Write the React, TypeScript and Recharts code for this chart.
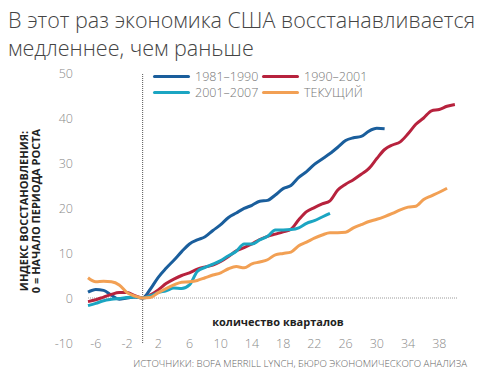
import { LineChart, Line, XAxis, YAxis, ReferenceLine, Legend } from 'recharts'

// quarters since the start of the recovery
const quarters = [
  -7, -6, -5, -4, -3, -2, -1, 0, 1, 2, 3, 4, 5, 6, 7, 8, 9, 10, 11, 12, 13, 14, 15, 16,
  17, 18, 19, 20, 21, 22, 23, 24, 25, 26, 27, 28, 29, 30, 31, 32, 33, 34, 35, 36, 37, 38, 39, 40,
]

const rec1981 = [
  1.3, 1.9, 1.7, 0.6, -0.3, 0, 0.2, 0, 2, 4.6, 6.6, 8.4, 10.3, 12, 12.9, 13.6, 15, 16.3, 17.9, 18.9,
  19.9, 20.6, 21.5, 21.7, 22.9, 24.3, 25, 26.8, 28.1, 29.7, 30.9, 32.1, 33.5, 35, 35.6, 35.9, 37.1,
  37.7, 37.6,
]

const rec1990 = [
  -0.8, -0.4, 0.2, 0.8, 1.2, 1.2, 0.5, 0, 0.7, 1.8, 3.2, 4.2, 5, 5.6, 6.4, 6.9, 7.3, 8.1, 9.2, 10.5,
  11.2, 12, 13, 13.7, 14.2, 14.7, 15.3, 17.4, 19.2, 20.1, 20.9, 21.6, 24, 25.3, 26.3, 27.5, 28.8, 31,
  33, 34, 34.7, 36.5, 38.6, 40, 41.6, 41.9, 42.6, 43,
]

const rec2001 = [
  -1.7, -1.2, -0.6, -0.3, -0.1, 0.1, 0.2, 0, 0.5, 1.2, 1.6, 2.2, 2.1, 2.9, 5.9, 6.8, 7.5, 8.3, 9.4,
  10.4, 12, 12, 12.9, 13.7, 15.1, 15.1, 15.2, 15.6, 16.6, 17.2, 18, 18.8,
]

const current = [
  4.5, 3.6, 3.7, 3.6, 2.9, 1.2, 0.4, 0, 0.1, 1.2, 2.1, 2.9, 3.5, 3.6, 3.9, 4.5, 5.1, 5.6, 6.5, 7,
  6.7, 7.6, 8, 8.5, 9.6, 9.9, 10.2, 11.6, 12.4, 13.3, 14, 14.5, 14.5, 14.6, 15.6, 16.3, 17, 17.5,
  18.1, 18.8, 19.6, 20.2, 20.4, 21.9, 22.7, 23.5, 24.4,
]

const seriesKeys = ['s1981', 's1990', 's2001', 'cur']
const seriesNames = ['1981–1990', '1990–2001', '2001–2007', 'ТЕКУЩИЙ']
const seriesColors = ['#1a5e9c', '#b7223d', '#1ba5c2', '#f2a054']
const seriesValues = [rec1981, rec1990, rec2001, current]

const xTicks = [-6, -2, 2, 6, 10, 14, 18, 22, 26, 30, 34, 38]
const yTicks = [-10, 0, 10, 20, 30, 40, 50]

const data = quarters.map((q, i) => {
  const row: any = { q }
  seriesKeys.forEach((k, j) => {
    row[k] = seriesValues[j][i] ?? null
  })
  return row
})

const font = '"Open Sans", "DejaVu Sans", sans-serif'

const TickText = ({ x, y, payload, anchor }: any) => (
  <text x={x} y={y} textAnchor={anchor} dominantBaseline="central" fill="#8a8a8a" fontSize={12.5} fontWeight={300} fontFamily={font}>
    {payload.value}
  </text>
)

const LegendBox = () => (
  <div style={{ display: 'grid', gridTemplateColumns: '109px 110px', rowGap: 1, fontFamily: font }}>
    {seriesNames.map((name, i) => (
      <div key={name} style={{ display: 'flex', alignItems: 'center', height: 15 }}>
        <span style={{ display: 'inline-block', width: 37, height: 3, borderRadius: 2, background: seriesColors[i], marginRight: 5 }} />
        <span style={{ fontSize: 12.5, fontWeight: 300, color: '#777' }}>{name}</span>
      </div>
    ))}
  </div>
)

const titleStyle: any = { position: 'absolute', left: 8, fontSize: 21.5, fontWeight: 300, lineHeight: '28px', color: '#444', whiteSpace: 'nowrap' }

export default function App() {
  return (
    <div style={{ position: 'absolute', left: 0, top: 0, width: 478, height: 380, background: '#fff', fontFamily: font }}>
      <div style={{ ...titleStyle, top: 6 }}>В этот раз экономика США восстанавливается</div>
      <div style={{ ...titleStyle, top: 34 }}>медленнее, чем раньше</div>

      <LineChart width={478} height={380} data={data} margin={{ top: 73, right: 20, bottom: 7, left: 28 }} style={{ position: 'absolute', left: 0, top: 0 }}>
        <XAxis
          dataKey="q"
          type="number"
          domain={[-7, 40.4]}
          ticks={xTicks}
          axisLine={false}
          tickLine={false}
          tickSize={0}
          tickMargin={0}
          height={30}
          tick={<TickText anchor="middle" />}
        />
        <YAxis
          domain={[-10, 50]}
          ticks={yTicks}
          axisLine={false}
          tickLine={false}
          tickSize={0}
          tickMargin={15}
          width={60}
          tick={<TickText anchor="end" />}
        />
        <ReferenceLine y={0} stroke="#9a9a9a" strokeDasharray="1 1" strokeWidth={1} />
        <ReferenceLine x={0} stroke="#555" strokeDasharray="1 1" strokeWidth={1} />
        <Legend
          layout="horizontal"
          verticalAlign="middle"
          content={<LegendBox />}
          wrapperStyle={{ top: 69, left: 153, width: 230, height: 32 }}
        />
        {seriesKeys.map((k, i) => (
          <Line
            key={k}
            dataKey={k}
            name={seriesNames[i]}
            type="monotone"
            stroke={seriesColors[i]}
            strokeWidth={3}
            dot={false}
            connectNulls={false}
            isAnimationActive={false}
          />
        ))}
      </LineChart>

      <svg width={478} height={380} style={{ position: 'absolute', left: 0, top: 0, pointerEvents: 'none' }}>
        <g transform="translate(33 211) rotate(-90)">
          <text x={0} y={-5} textAnchor="middle" fontSize={11} fontWeight={700} fill="#222" fontFamily={font}>
            ИНДЕКС ВОССТАНОВЛЕНИЯ:
          </text>
          <text x={0} y={7} textAnchor="middle" fontSize={11} fontWeight={700} fill="#222" fontFamily={font}>
            0 = НАЧАЛО ПЕРИОДА РОСТА
          </text>
        </g>
        <text x={278} y={326} textAnchor="middle" fontSize={11} fontWeight={700} fill="#222" fontFamily={font}>
          количество кварталов
        </text>
        <text x={467} y={367} textAnchor="end" fontSize={9.7} fontWeight={300} fill="#666" fontFamily={font}>
          ИСТОЧНИКИ: BOFA MERRILL LYNCH, БЮРО ЭКОНОМИЧЕСКОГО АНАЛИЗА
        </text>
      </svg>
    </div>
  )
}
